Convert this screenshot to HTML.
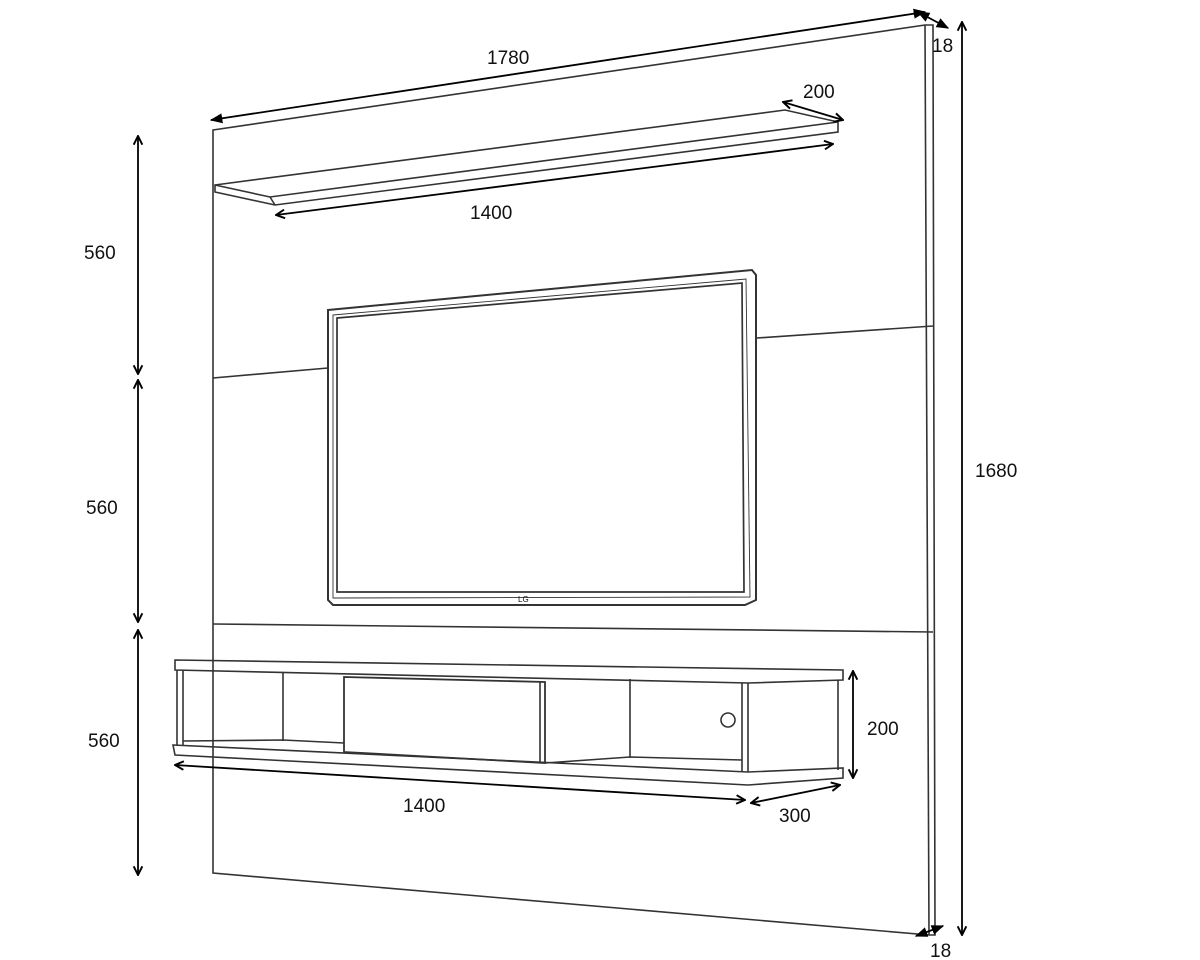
<!DOCTYPE html>
<html><head><style>body{margin:0;background:#fff}svg{display:block}text{font-family:"Liberation Sans",sans-serif;font-size:19px;fill:#111}</style></head>
<body>
<svg width="1200" height="960" viewBox="0 0 1200 960" xmlns="http://www.w3.org/2000/svg">
<defs>
<marker id="a" viewBox="0 0 10 10" refX="9" refY="5" markerWidth="7" markerHeight="7" orient="auto-start-reverse"><path d="M0,1 L10,5 L0,9 z" fill="#000"/></marker>
<marker id="b" viewBox="0 0 10 10" refX="9" refY="5" markerWidth="6" markerHeight="6" orient="auto-start-reverse"><path d="M1,1 L9,5 L1,9" fill="none" stroke="#000" stroke-width="1.8"/></marker>
</defs>
<g fill="none" stroke="#333" stroke-width="1.6">
<path d="M213,130 L925,25 L933,25 L935,935 L929,935 L213,873 Z"/>
<line x1="925" y1="25" x2="929" y2="935"/>
<line x1="213" y1="378" x2="328" y2="368"/>
<line x1="757" y1="338" x2="933" y2="326"/>
<line x1="213" y1="624" x2="933" y2="632"/>
<path d="M215,185 L785,110 L838,122 L838,132 L275,205 L215,192 Z"/>
<path d="M215,185 L270,197 L838,122"/>
<line x1="270" y1="197" x2="275" y2="205"/>
<path d="M328,310 L752,270 L756,275 L756,600 L745,605 L520,605 L333,605 L328,600 Z" stroke-width="2"/>
<path d="M337,318 L742,283 L744,592 L337,592 Z" stroke-width="1.7"/>
<path d="M333,315 L746,279 L750,597 L333,598 Z" stroke-width="0.9"/>
<path d="M175,660 L843,670 L843,680 L748,683 L175,670 Z"/>
<path d="M748,683 L748,772"/>
<path d="M838,680 L838,770"/>
<path d="M173,745 L748,772 L843,768 L843,778 L748,785 L175,755 Z"/>
<line x1="177" y1="670" x2="177" y2="746"/>
<line x1="183" y1="670" x2="183" y2="746"/>
<line x1="283" y1="672" x2="283" y2="741"/>
<line x1="630" y1="679" x2="630" y2="758"/>
<line x1="742" y1="683" x2="742" y2="772"/>
<path d="M183,741 L283,740 L344,743"/>
<path d="M545,763 L630,757 L742,760"/>
<path d="M344,677 L545,682 L545,763 L344,752 Z" stroke-width="1.8"/>
<line x1="540" y1="682" x2="540" y2="762"/>
<circle cx="728" cy="720" r="7"/>
</g>
<g stroke="#000" stroke-width="1.8" fill="none">
<line x1="211" y1="120" x2="925" y2="12" marker-start="url(#a)" marker-end="url(#a)"/>
<line x1="918" y1="12" x2="948" y2="28" marker-start="url(#a)" marker-end="url(#a)"/>
<line x1="962" y1="22" x2="962" y2="935" marker-start="url(#b)" marker-end="url(#b)"/>
<line x1="916" y1="936" x2="943" y2="926" marker-start="url(#a)" marker-end="url(#a)"/>
<line x1="783" y1="102" x2="843" y2="120" marker-start="url(#b)" marker-end="url(#b)"/>
<line x1="276" y1="215" x2="833" y2="144" marker-start="url(#b)" marker-end="url(#b)"/>
<line x1="138" y1="136" x2="138" y2="374" marker-start="url(#b)" marker-end="url(#b)"/>
<line x1="138" y1="380" x2="138" y2="622" marker-start="url(#b)" marker-end="url(#b)"/>
<line x1="138" y1="630" x2="138" y2="875" marker-start="url(#b)" marker-end="url(#b)"/>
<line x1="853" y1="671" x2="853" y2="778" marker-start="url(#b)" marker-end="url(#b)"/>
<line x1="175" y1="765" x2="745" y2="800" marker-start="url(#b)" marker-end="url(#b)"/>
<line x1="751" y1="803" x2="840" y2="785" marker-start="url(#b)" marker-end="url(#b)"/>
</g>
<text x="487" y="64">1780</text>
<text x="932" y="52">18</text>
<text x="975" y="477">1680</text>
<text x="930" y="957">18</text>
<text x="803" y="98">200</text>
<text x="470" y="219">1400</text>
<text x="84" y="259">560</text>
<text x="86" y="514">560</text>
<text x="88" y="747">560</text>
<text x="867" y="735">200</text>
<text x="403" y="812">1400</text>
<text x="779" y="822">300</text>
<text x="518" y="602" style="font-size:8px">LG</text>
</svg>
</body></html>
